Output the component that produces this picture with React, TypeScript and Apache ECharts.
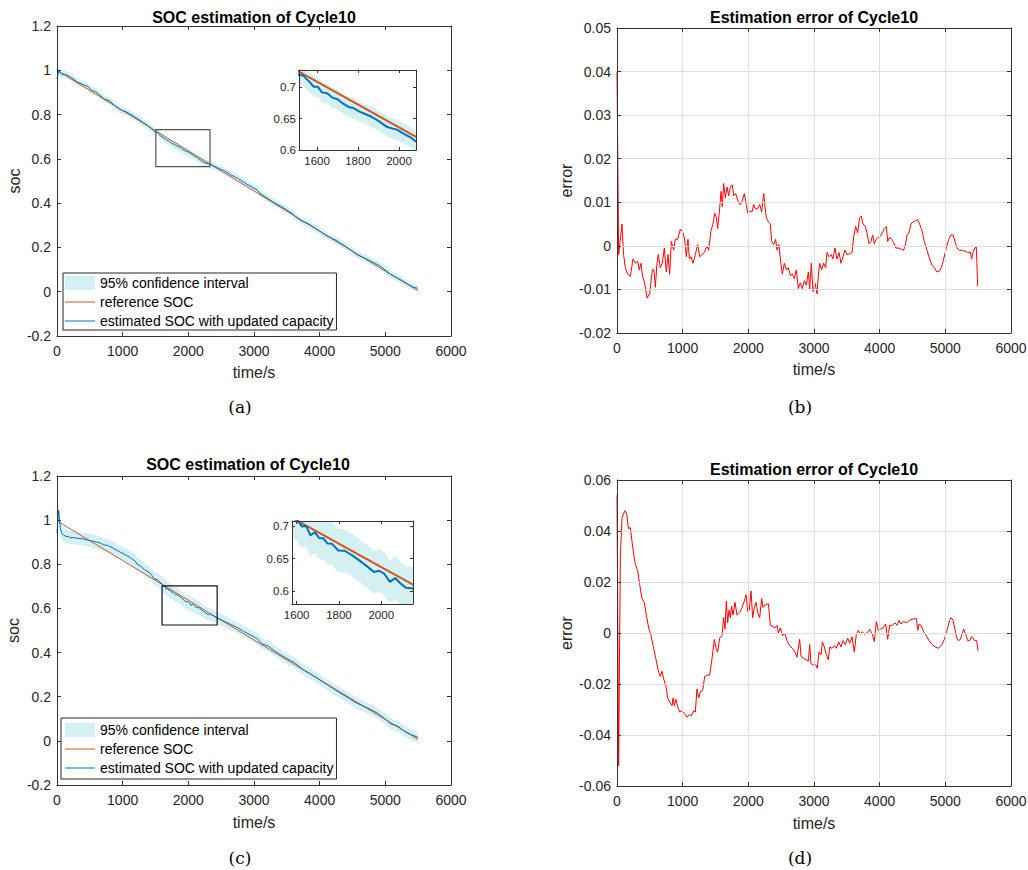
import React, { useEffect, useRef } from "react";
import * as echarts from "echarts";

// ---------------- data ----------------
// reference SOC, panel (a)  [time s, soc]
const refSocA: number[][] = [
  [0, 1.0], [1000, 0.818], [2000, 0.636], [3000, 0.455], [4000, 0.273], [5000, 0.093], [5500, 0.005],
];
// estimated SOC, panel (a)  [time s, soc, 95% CI half-width]
const estSocA: number[][] = [
  [0, 0.961, 0.02], [25, 0.997, 0.02], [76, 0.981, 0.018], [127, 0.982, 0.017], [203, 0.97, 0.016],
  [315, 0.946, 0.016], [421, 0.932, 0.016], [457, 0.929, 0.016], [538, 0.908, 0.016], [584, 0.904, 0.016],
  [660, 0.886, 0.016], [721, 0.87, 0.016], [802, 0.862, 0.016], [888, 0.838, 0.016], [964, 0.822, 0.016],
  [1056, 0.812, 0.016], [1157, 0.795, 0.016], [1259, 0.775, 0.016], [1371, 0.752, 0.016], [1431, 0.738, 0.016],
  [1487, 0.724, 0.016], [1513, 0.7198, 0.016], [1533, 0.7187, 0.016], [1563, 0.7087, 0.016], [1584, 0.7009, 0.016],
  [1604, 0.7008, 0.016], [1624, 0.6919, 0.016], [1650, 0.6905, 0.016], [1675, 0.6835, 0.016], [1700, 0.681, 0.016],
  [1726, 0.6743, 0.016], [1756, 0.6683, 0.016], [1777, 0.667, 0.016], [1807, 0.6611, 0.016], [1838, 0.657, 0.016],
  [1868, 0.6526, 0.016], [1898, 0.6469, 0.016], [1939, 0.6372, 0.016], [1970, 0.6341, 0.016], [1990, 0.6325, 0.016],
  [2020, 0.6266, 0.016], [2056, 0.6203, 0.016], [2081, 0.614, 0.016], [2107, 0.6103, 0.016], [2142, 0.604, 0.016],
  [2234, 0.584, 0.016], [2305, 0.5775, 0.016], [2355, 0.573, 0.016], [2487, 0.553, 0.016], [2518, 0.551, 0.016],
  [2640, 0.529, 0.016], [2761, 0.51, 0.016], [2883, 0.487, 0.016], [3046, 0.46, 0.016], [3086, 0.4457, 0.016],
  [3198, 0.423, 0.016], [3320, 0.4, 0.016], [3442, 0.38, 0.016], [3579, 0.354, 0.016], [3635, 0.338, 0.016],
  [3721, 0.32, 0.016], [3838, 0.305, 0.016], [3980, 0.278, 0.016], [4102, 0.2536, 0.016], [4244, 0.2328, 0.016],
  [4396, 0.2042, 0.016], [4579, 0.1656, 0.016], [4721, 0.147, 0.016], [4909, 0.1178, 0.016], [5086, 0.0775, 0.016],
  [5259, 0.0496, 0.016], [5421, 0.0208, 0.016], [5492, 0.0157, 0.016],
];
// estimation error, panel (b)  [time s, error]
const errorB: number[][] = [
  [0, 0.04], [25, -0.002], [76, 0.005], [100, -0.002], [127, -0.005], [162, -0.0065], [203, -0.007], [244, -0.003],
  [280, -0.004], [315, -0.0035], [340, -0.0055], [365, -0.004], [390, -0.007], [421, -0.0085], [457, -0.012],
  [497, -0.011], [538, -0.0055], [563, -0.0055], [584, -0.0095], [609, -0.004], [629, -0.002], [660, -0.005],
  [690, -0.004], [721, -0.0005], [751, -0.006], [777, -0.002], [802, -0.0065], [827, 0.001], [863, -0.001],
  [888, 0.0015], [924, 0.0015], [964, 0.0038], [1005, 0.003], [1030, 0.0015], [1056, -0.0025], [1081, 0.0015],
  [1102, -0.003], [1127, -0.0025], [1157, -0.004], [1193, -0.002], [1228, 0.0003], [1259, -0.0025], [1294, -0.002],
  [1330, -0.0015], [1371, 0], [1396, -0.001], [1431, 0.0035], [1462, 0.005], [1487, 0.0075], [1513, 0.0065],
  [1533, 0.004], [1563, 0.0085], [1584, 0.0125], [1604, 0.009], [1624, 0.0143], [1650, 0.011], [1675, 0.0135],
  [1700, 0.0115], [1726, 0.0135], [1756, 0.014], [1777, 0.0115], [1807, 0.012], [1838, 0.0105], [1868, 0.0095],
  [1898, 0.0098], [1939, 0.012], [1970, 0.0095], [1990, 0.0075], [2020, 0.008], [2056, 0.0078], [2081, 0.0095],
  [2107, 0.0085], [2142, 0.0085], [2173, 0.0095], [2203, 0.0078], [2234, 0.012], [2254, 0.009], [2274, 0.0065],
  [2305, 0.0055], [2335, 0.005], [2355, 0.001], [2386, 0.0003], [2416, 0.0015], [2437, -0.001], [2467, 0.0003],
  [2487, -0.003], [2518, -0.0065], [2548, -0.004], [2579, -0.0055], [2609, -0.005], [2640, -0.0068], [2670, -0.0065],
  [2701, -0.0075], [2731, -0.0055], [2761, -0.0098], [2792, -0.0085], [2822, -0.0098], [2853, -0.008], [2883, -0.009],
  [2914, -0.006], [2934, -0.01], [2959, -0.004], [2985, -0.0105], [3015, -0.0085], [3046, -0.011], [3066, -0.007],
  [3086, -0.004], [3117, -0.0055], [3147, -0.004], [3178, -0.005], [3198, -0.0015], [3228, -0.0025], [3259, -0.002],
  [3289, -0.003], [3320, -0.0005], [3350, -0.003], [3381, -0.0015], [3411, -0.004], [3442, -0.0025], [3472, -0.001],
  [3503, -0.002], [3543, -0.0018], [3579, -0.0015], [3604, 0.002], [3635, 0.0045], [3665, 0.003], [3695, 0.0065],
  [3721, 0.0068], [3746, 0.005], [3782, 0.0045], [3807, 0.003], [3838, 0.0005], [3868, 0.001], [3893, 0.0025],
  [3919, 0.0005], [3949, 0.0015], [3980, 0.002], [4010, 0.0022], [4041, 0.003], [4071, 0.004], [4102, 0.0044],
  [4122, 0.001], [4152, 0.002], [4183, 0.0015], [4213, 0.0008], [4244, -0.0005], [4289, -0.0005], [4330, -0.0008],
  [4365, -0.001], [4396, 0.0005], [4416, 0.0025], [4447, 0.003], [4477, 0.005], [4508, 0.0055], [4548, 0.0058],
  [4579, 0.006], [4609, 0.005], [4645, 0.0035], [4680, 0.001], [4721, -0.001], [4761, -0.003], [4797, -0.0045],
  [4832, -0.005], [4873, -0.006], [4909, -0.0058], [4939, -0.005], [4975, -0.003], [5015, -0.0005], [5051, 0.0015],
  [5086, 0.0025], [5117, 0.0025], [5147, 0.001], [5178, -0.0005], [5218, -0.001], [5259, -0.001], [5299, -0.0012],
  [5340, -0.0015], [5381, -0.0015], [5401, -0.003], [5421, -0.0015], [5452, -0.0005], [5472, -0.0002], [5492, -0.0092],
];
// reference SOC, panel (c)
const refSocC: number[][] = [
  [20, 0.993], [1000, 0.817], [2000, 0.637], [3000, 0.457], [4000, 0.277], [5000, 0.097], [5500, 0.006],
];
// estimated SOC, panel (c)  [time s, soc, 95% CI half-width]
const estSocC: number[][] = [
  [0, 0.944, 0.035], [25, 1.046, 0.035], [51, 0.96, 0.035], [76, 0.939, 0.032], [102, 0.933, 0.03],
  [127, 0.927, 0.03], [173, 0.926, 0.03], [203, 0.92, 0.03], [254, 0.921, 0.03], [315, 0.917, 0.03],
  [381, 0.916, 0.03], [447, 0.911, 0.03], [518, 0.906, 0.03], [599, 0.901, 0.03], [660, 0.896, 0.03],
  [711, 0.888, 0.03], [772, 0.885, 0.03], [838, 0.876, 0.03], [924, 0.861, 0.03], [990, 0.851, 0.03],
  [1066, 0.839, 0.03], [1132, 0.827, 0.03], [1193, 0.814, 0.03], [1218, 0.801, 0.03], [1269, 0.793, 0.03],
  [1335, 0.775, 0.03], [1411, 0.761, 0.03], [1447, 0.748, 0.03], [1482, 0.734, 0.03], [1533, 0.73, 0.032],
  [1563, 0.719, 0.033], [1599, 0.7112, 0.033], [1624, 0.6997, 0.033], [1645, 0.7004, 0.033], [1665, 0.6858, 0.033],
  [1685, 0.6907, 0.033], [1706, 0.6819, 0.033], [1726, 0.6813, 0.033], [1746, 0.6732, 0.033], [1766, 0.6731, 0.033],
  [1797, 0.6625, 0.033], [1827, 0.6621, 0.033], [1868, 0.6538, 0.033], [1904, 0.6453, 0.033], [1939, 0.6365, 0.033],
  [1965, 0.6293, 0.033], [1990, 0.6313, 0.033], [2015, 0.6263, 0.033], [2041, 0.6141, 0.033], [2066, 0.6201, 0.033],
  [2091, 0.6116, 0.033], [2117, 0.6049, 0.033], [2142, 0.6044, 0.033], [2173, 0.6009, 0.033], [2254, 0.581, 0.03],
  [2305, 0.5715, 0.03], [2335, 0.5747, 0.028], [2437, 0.5563, 0.027], [2518, 0.546, 0.026], [2629, 0.53, 0.025],
  [2741, 0.514, 0.025], [2843, 0.496, 0.025], [2954, 0.478, 0.025], [3051, 0.4626, 0.025], [3127, 0.4386, 0.025],
  [3218, 0.4293, 0.025], [3340, 0.4028, 0.025], [3477, 0.3766, 0.025], [3614, 0.355, 0.025], [3736, 0.325, 0.025],
  [3888, 0.2987, 0.025], [4010, 0.2747, 0.025], [4152, 0.2476, 0.025], [4294, 0.2201, 0.025], [4457, 0.1907, 0.025],
  [4558, 0.1719, 0.025], [4670, 0.157, 0.025], [4797, 0.139, 0.025], [4898, 0.1224, 0.025], [5025, 0.0925, 0.025],
  [5086, 0.0765, 0.025], [5198, 0.0654, 0.025], [5279, 0.0463, 0.025], [5396, 0.0282, 0.025], [5497, 0.0155, 0.025],
];
// estimation error, panel (d)
const errorD: number[][] = [
  [0, 0.054], [25, -0.052], [51, 0.03], [76, 0.045], [102, 0.047], [127, 0.048], [152, 0.046], [173, 0.041],
  [203, 0.0413], [228, 0.036], [254, 0.031], [279, 0.027], [315, 0.0245], [345, 0.019], [381, 0.0135], [416, 0.012],
  [447, 0.007], [482, 0.002], [518, -0.001], [558, -0.006], [599, -0.011], [635, -0.0155], [660, -0.017],
  [685, -0.015], [711, -0.018], [746, -0.021], [772, -0.0255], [812, -0.0275], [838, -0.0285], [853, -0.0255],
  [873, -0.0285], [898, -0.026], [924, -0.029], [954, -0.031], [990, -0.0305], [1025, -0.0315], [1066, -0.033],
  [1102, -0.032], [1132, -0.0325], [1168, -0.0305], [1193, -0.031], [1218, -0.022], [1244, -0.0255], [1269, -0.023],
  [1305, -0.0225], [1335, -0.017], [1371, -0.0165], [1411, -0.0165], [1447, -0.01], [1482, -0.0025], [1513, -0.0065],
  [1533, -0.0075], [1563, -0.002], [1599, -0.001], [1624, 0.006], [1645, 0.0015], [1665, 0.0125], [1685, 0.004],
  [1706, 0.009], [1726, 0.006], [1746, 0.0105], [1766, 0.007], [1797, 0.012], [1827, 0.007], [1868, 0.008],
  [1904, 0.01], [1939, 0.0125], [1965, 0.015], [1990, 0.0085], [2015, 0.009], [2041, 0.0165], [2066, 0.006],
  [2091, 0.01], [2117, 0.012], [2142, 0.008], [2173, 0.006], [2203, 0.0135], [2223, 0.01], [2254, 0.011],
  [2305, 0.0115], [2335, 0.003], [2376, 0.0025], [2406, 0.002], [2437, 0.003], [2457, 0], [2487, 0.002],
  [2518, -0.001], [2558, -0.0002], [2589, -0.003], [2629, -0.005], [2670, -0.006], [2711, -0.0075], [2741, -0.0095],
  [2782, -0.0025], [2802, -0.009], [2843, -0.01], [2883, -0.0105], [2914, -0.011], [2934, -0.0045], [2954, -0.012],
  [2985, -0.0125], [3025, -0.0125], [3051, -0.0138], [3076, -0.0075], [3107, -0.0085], [3127, -0.0035], [3157, -0.0055],
  [3188, -0.0085], [3218, -0.0105], [3239, -0.0055], [3274, -0.006], [3310, -0.005], [3340, -0.006], [3376, -0.0035],
  [3411, -0.0055], [3442, -0.003], [3477, -0.0045], [3513, -0.002], [3543, -0.004], [3579, -0.0015], [3614, -0.0075],
  [3645, -0.0005], [3675, 0.001], [3706, -0.0005], [3736, 0.0005], [3767, -0.0005], [3807, 0], [3848, 0.0015],
  [3888, -0.0005], [3919, -0.0035], [3949, 0.0045], [3980, 0.001], [4010, 0.0015], [4051, 0.002], [4091, 0.0035],
  [4122, -0.0025], [4152, 0.003], [4193, 0.003], [4234, 0.004], [4264, 0.003], [4294, 0.005], [4325, 0.0035],
  [4365, 0.0045], [4406, 0.004], [4457, 0.005], [4508, 0.0055], [4558, 0.0057], [4579, 0.001], [4599, 0.0035],
  [4630, 0.003], [4670, 0.0005], [4711, -0.001], [4751, -0.003], [4797, -0.0045], [4848, -0.0055], [4898, -0.006],
  [4949, -0.0045], [4985, -0.0025], [5025, 0.001], [5066, 0.005], [5086, 0.006], [5117, 0.005], [5142, 0.002],
  [5168, -0.0015], [5198, -0.003], [5228, -0.0025], [5254, -0.0005], [5279, 0.0015], [5310, -0.0005], [5340, -0.003],
  [5371, -0.003], [5396, -0.0015], [5421, -0.002], [5447, -0.003], [5477, -0.003], [5497, -0.007],
];

// axis ranges and ticks
const timeAxis = { min: 0, max: 6000, interval: 1000 };
const socAxis = { min: -0.2, max: 1.2, interval: 0.2 };
const errAxisB = { min: -0.02, max: 0.05, interval: 0.01 };
const errAxisD = { min: -0.06, max: 0.06, interval: 0.02 };
const insetTimeA = { min: 1512, max: 2083, ticks: [1600, 1800, 2000] };
const insetSocA = { min: 0.6, max: 0.7276, ticks: [0.6, 0.65, 0.7] };
const insetTimeC = { min: 1578, max: 2150, ticks: [1600, 1800, 2000] };
const insetSocC = { min: 0.58, max: 0.708, ticks: [0.6, 0.65, 0.7] };
// zoom boxes: [[t0, socTop], [t1, socBottom]]
const zoomBoxA = [[1505, 0.732], [2330, 0.565]];
const zoomBoxC = [[1600, 0.702], [2439, 0.525]];

const legendNames = ["95% confidence interval", "reference SOC", "estimated SOC with updated capacity"];
const titleTexts = ["SOC estimation of Cycle10", "Estimation error of Cycle10", "SOC estimation of Cycle10", "Estimation error of Cycle10"];
const captionTexts = ["(a)", "(b)", "(c)", "(d)"];
const xName = "time/s";
const yNames = ["soc", "error", "soc", "error"];

// ---------------- styling ----------------
const FONT = '"Liberation Sans", Arial, Helvetica, sans-serif';
const AXIS = "#333333";
const LABEL = "#262626";
const GRIDC = "#dedede";
const CI = "#d5f0f3";
const ORANGE = "#d95319";
const BLUE = "#0072bd";
const RED = "#ff0000";
// thin horizontal stroke icon for line legend entries (box 30x14)
const LINE_ICON = "path://M0,0h0.01v0.01h-0.01zM0,6.4h30v1.2h-30zM29.99,13.99h0.01v0.01h-0.01z";

type Spec = { min: number; max: number; interval?: number; ticks?: number[] };

function axisPair(
  kind: "x" | "y",
  gridIndex: number,
  spec: Spec,
  o: { fontSize: number; margin: number; tickLen: number; split: boolean; name?: string; nameGap?: number }
) {
  const tick: any = { show: true, inside: true, length: o.tickLen, lineStyle: { color: AXIS, width: 1 } };
  const label: any = {
    show: true, color: LABEL, fontSize: o.fontSize, fontFamily: FONT, margin: o.margin,
    formatter: (v: number) => (kind === "x" ? String(Math.round(v)) : String(parseFloat(v.toFixed(4)))),
  };
  if (spec.ticks) {
    tick.customValues = spec.ticks;
    label.customValues = spec.ticks;
  }
  const base: any = {
    type: "value",
    gridIndex,
    min: spec.min,
    max: spec.max,
    z: 6,
    axisLine: { show: true, onZero: false, lineStyle: { color: AXIS, width: 1 } },
    axisTick: tick,
  };
  if (spec.interval !== undefined) base.interval = spec.interval;
  const main: any = {
    ...base,
    position: kind === "x" ? "bottom" : "left",
    axisLabel: label,
    splitLine: { show: o.split, lineStyle: { color: GRIDC, width: 1 } },
  };
  if (o.name) {
    main.name = o.name;
    main.nameLocation = "middle";
    main.nameGap = o.nameGap;
    if (kind === "y") main.nameRotate = 90;
    main.nameTextStyle = { fontSize: 16, color: LABEL, fontFamily: FONT };
  }
  const mirror: any = {
    ...base,
    position: kind === "x" ? "top" : "right",
    axisLabel: { show: false },
    splitLine: { show: false },
  };
  return [main, mirror];
}

function bandSeries(ai: number, est: number[][]) {
  return {
    type: "custom",
    name: legendNames[0],
    xAxisIndex: ai,
    yAxisIndex: ai,
    data: est.map((p) => [p[0], p[1]]),
    encode: { x: 0, y: 1 },
    clip: true,
    silent: true,
    z: 1,
    color: CI,
    itemStyle: { color: CI },
    renderItem: (params: any, api: any) => {
      if (params.dataIndex !== 0) return null;
      const upper = est.map((p) => api.coord([p[0], p[1] + p[2]]));
      const lower = est.map((p) => api.coord([p[0], p[1] - p[2]])).reverse();
      const cs = params.coordSys;
      return {
        type: "polygon",
        shape: { points: upper.concat(lower) },
        style: { fill: CI, stroke: "none" },
        clipPath: { type: "rect", shape: { x: cs.x, y: cs.y, width: cs.width, height: cs.height } },
      };
    },
  };
}

function socSeries(ai: number, est: number[][], refd: number[][], lw: number, box?: number[][], boxColor?: string) {
  const list: any[] = [
    bandSeries(ai, est),
    {
      type: "line", name: legendNames[1], xAxisIndex: ai, yAxisIndex: ai, data: refd, symbol: "none", z: 2,
      color: ORANGE, itemStyle: { color: ORANGE }, lineStyle: { color: ORANGE, width: lw },
    },
    {
      type: "line", name: legendNames[2], xAxisIndex: ai, yAxisIndex: ai, data: est.map((p) => [p[0], p[1]]),
      symbol: "none", z: 3, color: BLUE, itemStyle: { color: BLUE }, lineStyle: { color: BLUE, width: lw },
    },
  ];
  if (box) {
    list[2].markArea = {
      silent: true,
      z: 5,
      label: { show: false },
      itemStyle: { color: "rgba(0,0,0,0)", borderColor: boxColor, borderWidth: 1.2 },
      data: [[{ coord: box[0] }, { coord: box[1] }]],
    };
  }
  return list;
}

function legendFor(left: number, top: number, padding: number[]) {
  return {
    show: true,
    left,
    top,
    z: 8,
    orient: "vertical",
    itemWidth: 30,
    itemHeight: 14,
    itemGap: 5,
    padding,
    borderColor: "#262626",
    borderWidth: 1,
    backgroundColor: "#ffffff",
    selectedMode: false,
    textStyle: { fontSize: 14, color: "#000", fontFamily: FONT },
    data: [
      { name: legendNames[0], icon: "rect", itemStyle: { color: CI, borderWidth: 0, opacity: 1 } },
      { name: legendNames[1], icon: LINE_ICON, itemStyle: { color: ORANGE, borderWidth: 0 } },
      { name: legendNames[2], icon: LINE_ICON, itemStyle: { color: BLUE, borderWidth: 0 } },
    ],
  };
}

function textEl(x: number, y: number, text: string, font: string) {
  return {
    type: "text",
    x,
    y,
    silent: true,
    style: {
      text,
      font,
      fill: "#000",
      textAlign: "center",
      textVerticalAlign: "middle",
      align: "center",
      verticalAlign: "middle",
    },
  };
}

function buildOption() {
  const grids = [
    { left: 57, top: 26, width: 394, height: 310 },
    { left: 617, top: 28, width: 394, height: 305 },
    { left: 57, top: 476, width: 394, height: 309 },
    { left: 617, top: 480, width: 394, height: 306 },
    { left: 299, top: 70, width: 117, height: 80, show: true, backgroundColor: "#fff", borderWidth: 0 },
    { left: 292, top: 521, width: 121, height: 83, show: true, backgroundColor: "#fff", borderWidth: 0 },
  ].map((g) => ({ outerBoundsMode: "none", containLabel: false, ...g }));

  const mainX = { fontSize: 14, margin: 8, tickLen: 4 };
  const mainY = { fontSize: 14, margin: 6, tickLen: 4 };
  const insetO = { fontSize: 11.5, tickLen: 3, split: false };

  const xAxes: any[] = [
    ...axisPair("x", 0, timeAxis, { ...mainX, split: false, name: xName, nameGap: 28 }),
    ...axisPair("x", 1, timeAxis, { ...mainX, split: true, name: xName, nameGap: 28 }),
    ...axisPair("x", 2, timeAxis, { ...mainX, split: false, name: xName, nameGap: 29 }),
    ...axisPair("x", 3, timeAxis, { ...mainX, split: true, name: xName, nameGap: 29 }),
    ...axisPair("x", 4, insetTimeA, { ...insetO, margin: 5 }),
    ...axisPair("x", 5, insetTimeC, { ...insetO, margin: 5 }),
  ];
  const yAxes: any[] = [
    ...axisPair("y", 0, socAxis, { ...mainY, split: false, name: yNames[0], nameGap: 33 }),
    ...axisPair("y", 1, errAxisB, { ...mainY, split: true, name: yNames[1], nameGap: 43 }),
    ...axisPair("y", 2, socAxis, { ...mainY, split: false, name: yNames[2], nameGap: 36 }),
    ...axisPair("y", 3, errAxisD, { ...mainY, split: true, name: yNames[3], nameGap: 43 }),
    ...axisPair("y", 4, insetSocA, { ...insetO, margin: 3 }),
    ...axisPair("y", 5, insetSocC, { ...insetO, margin: 3 }),
  ];

  // axis index for grid g is 2*g (bottom/left); 2*g+1 are the mirrored top/right axes
  const series: any[] = [
    ...socSeries(0, estSocA, refSocA, 1, zoomBoxA, "#555555"),
    {
      type: "line", name: "error (b)", xAxisIndex: 2, yAxisIndex: 2, data: errorB, symbol: "none",
      color: RED, lineStyle: { color: RED, width: 1 },
    },
    ...socSeries(4, estSocC, refSocC, 1, zoomBoxC, "#111111"),
    {
      type: "line", name: "error (d)", xAxisIndex: 6, yAxisIndex: 6, data: errorD, symbol: "none",
      color: RED, lineStyle: { color: RED, width: 1 },
    },
    ...socSeries(8, estSocA, refSocA, 2),
    ...socSeries(10, estSocC, refSocC, 2),
  ];

  const titleFont = `bold 16px ${FONT}`;
  const capFont = '17px "DejaVu Serif", "Liberation Serif", serif';
  const graphic = [
    textEl(254, 17, titleTexts[0], titleFont),
    textEl(814, 17, titleTexts[1], titleFont),
    textEl(248, 464, titleTexts[2], titleFont),
    textEl(814, 469, titleTexts[3], titleFont),
    textEl(240, 407, captionTexts[0], capFont),
    textEl(800, 407, captionTexts[1], capFont),
    textEl(240, 858, captionTexts[2], capFont),
    textEl(800, 858, captionTexts[3], capFont),
  ];

  return {
    animation: false,
    backgroundColor: "#ffffff",
    textStyle: { fontFamily: FONT },
    grid: grids,
    xAxis: xAxes,
    yAxis: yAxes,
    legend: [legendFor(63, 273, [3, 3, 2, 2]), legendFor(61, 718, [5, 3, 4, 4])],
    series,
    graphic,
  };
}

export default function App() {
  const ref = useRef<HTMLDivElement>(null);
  useEffect(() => {
    if (!ref.current) return;
    const chart = echarts.init(ref.current, null, { renderer: "svg" });
    chart.setOption(buildOption() as any);
    return () => chart.dispose();
  }, []);
  return (
    <div
      ref={ref}
      style={{ position: "absolute", left: 0, top: 0, width: 1028, height: 870, background: "#fff" }}
    />
  );
}
